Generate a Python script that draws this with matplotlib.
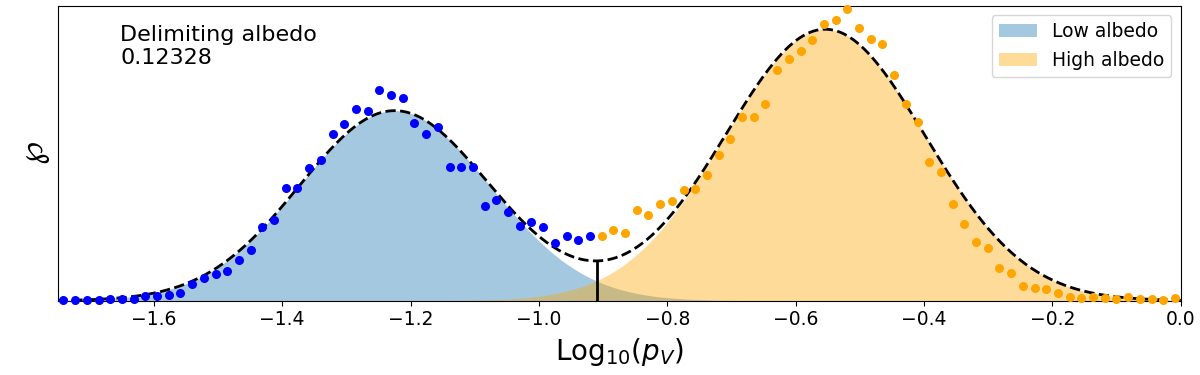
import numpy as np
import matplotlib
matplotlib.use("Agg")
import matplotlib.pyplot as plt

# ---- data ----
bin_lo, bin_hi, n_bins = -1.75, 0.0, 96
delimiting_albedo = 0.12328

low_values = [0.005, 0.005, 0.005, 0.005, 0.018, 0.015, 0.018, 0.050, 0.050, 0.055,
              0.082, 0.170, 0.225, 0.272, 0.298, 0.405, 0.512, 0.735, 0.812, 1.128,
              1.128, 1.330, 1.405, 1.662, 1.765, 1.912, 1.893, 2.108, 2.052, 2.022,
              1.772, 1.665, 1.738, 1.332, 1.332, 1.332, 0.945, 1.005, 0.885, 0.748,
              0.785, 0.735, 0.578, 0.645, 0.612, 0.645]
high_values = [0.645, 0.712, 0.678, 0.908, 0.855, 0.965, 0.998, 1.108, 1.115, 1.255,
               1.452, 1.618, 1.835, 1.835, 1.962, 2.305, 2.418, 2.492, 2.602, 2.765,
               2.805, 2.915, 2.730, 2.615, 2.562, 2.258, 1.962, 1.790, 1.385, 1.282,
               0.968, 0.772, 0.592, 0.532, 0.332, 0.278, 0.150, 0.132, 0.120, 0.078,
               0.038, 0.030, 0.040, 0.025, 0.022, 0.038, 0.015, 0.015, 0.012, 0.025]

# Gaussian fit parameters (amplitude, mean, sigma)
low_fit = (1.90, -1.225, 0.148)
high_fit = (2.714, -0.554, 0.156)

legend_labels = ["Low albedo", "High albedo"]

# ---- figure ----
edges = np.linspace(bin_lo, bin_hi, n_bins + 1)
centers = 0.5 * (edges[:-1] + edges[1:])
x_low = centers[:len(low_values)]
x_high = centers[len(low_values):]

def gauss(x, p):
    a, m, s = p
    return a * np.exp(-(x - m) ** 2 / (2 * s ** 2))

xx = np.linspace(bin_lo, bin_hi, 1000)
g_low = gauss(xx, low_fit)
g_high = gauss(xx, high_fit)
total = g_low + g_high

fig = plt.figure(figsize=(12, 3.75), dpi=100)
ax = fig.add_axes([0.048, 0.198, 0.936, 0.787])

ax.fill_between(xx, 0, g_low, color="tab:blue", alpha=0.4, lw=0, label=legend_labels[0])
ax.fill_between(xx, 0, g_high, color="orange", alpha=0.4, lw=0, label=legend_labels[1])
ax.plot(xx, total, "k--", lw=2)

xd = np.log10(delimiting_albedo)
yd = gauss(np.array([xd]), low_fit)[0] + gauss(np.array([xd]), high_fit)[0]
ax.plot([xd, xd], [0, yd], color="k", lw=2)

ax.scatter(x_low, low_values, s=30, color="blue", zorder=3, clip_on=False)
ax.scatter(x_high, high_values, s=30, color="orange", zorder=3, clip_on=False)

ax.set_xlim(bin_lo, bin_hi)
ax.set_ylim(0, 2.95)
ax.set_yticks([])
ax.tick_params(axis="x", labelsize=13.5)
ax.set_xlabel(r"Log$_{10}(p_V)$", fontsize=20, labelpad=5)
ax.set_ylabel(r"$\wp$", fontsize=24)

ax.text(0.056, 0.935, "Delimiting albedo\n%s" % delimiting_albedo, transform=ax.transAxes,
        fontsize=16, va="top", ha="left", linespacing=1.2)

ax.legend(loc="upper right", fontsize=13.5)

fig.savefig("out.png", dpi=100)
